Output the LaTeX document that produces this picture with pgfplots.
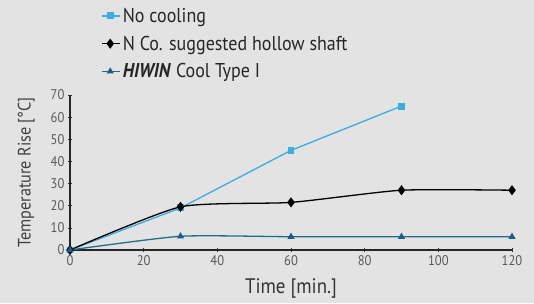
\documentclass[border=0pt]{standalone}
\usepackage{pgfplots}
\pgfplotsset{compat=1.18}
\usepackage{fontspec}
\setmainfont{PT Sans}[FakeStretch=0.9]
\definecolor{bg}{HTML}{E3E3E3}
\definecolor{cblue}{HTML}{3AAEE2}
\definecolor{cteal}{HTML}{1F6F8B}
\definecolor{cdark}{HTML}{1A5C8C}
\begin{document}
\begin{tikzpicture}[x=1pt,y=1pt]
\fill[bg] (-70pt,-53pt) rectangle (464pt,250pt);
\useasboundingbox (-70pt,-53pt) rectangle (464pt,250pt);
\begin{axis}[
  at={(0pt,0pt)}, anchor=origin,
  scale only axis, width=442pt, height=155pt,
  xmin=0, xmax=120, ymin=0, ymax=70,
  xtick={0,20,...,120}, ytick={0,10,...,70},
  axis lines=left, axis line style={-, line width=1.3pt, black!85},
  tick style={black!80, line width=0.6pt},
  major tick length=4pt,
  tick label style={font=\fontsize{14}{16}\selectfont, text=black!65},
  /pgf/number format/assume math mode=true,
  xlabel={Time [min.]}, ylabel={Temperature Rise [\textdegree C]},
  xlabel style={font=\fontsize{21}{23}\selectfont, text=black!80, yshift=-6pt},
  ylabel style={font=\fontsize{18}{20}\selectfont, text=black!75, yshift=9pt},
  clip=false,
  legend style={at={(0.071,1.575)}, anchor=north west, draw=none, fill=none,
    font=\fontsize{20}{22}\selectfont, text=black!85, row sep=8pt,
    legend cell align=left, inner sep=0pt},
  legend image code/.code={\path (0pt,0pt) -- (18pt,0pt); \draw[#1] (0pt,0pt) -- (16pt,0pt); \draw[#1, mark repeat=1] plot coordinates {(8pt,0pt)};},
]
\addplot[cblue, line width=1.3pt, mark=square*, mark size=2.8pt, mark options={fill=cblue}]
  coordinates {(0,0) (30,19) (60,45) (90,65)};
\addlegendentry{No cooling}
\addplot[black, line width=1.3pt, smooth, tension=0.35, mark=diamond*, mark size=4pt, mark options={fill=black}]
  coordinates {(0,0) (30,19.5) (60,21.5) (90,27) (120,27)};
\addlegendentry{N Co. suggested hollow shaft}
\addplot[cteal, line width=1.3pt, smooth, tension=0.35, mark=triangle*, mark size=2.8pt, mark options={fill=cdark, draw=cdark}]
  coordinates {(0,0) (30,6.2) (60,6) (90,6) (120,6)};
\addlegendentry{\textbf{\textit{HIWIN}} Cool Type I}
\end{axis}
\end{tikzpicture}
\end{document}
